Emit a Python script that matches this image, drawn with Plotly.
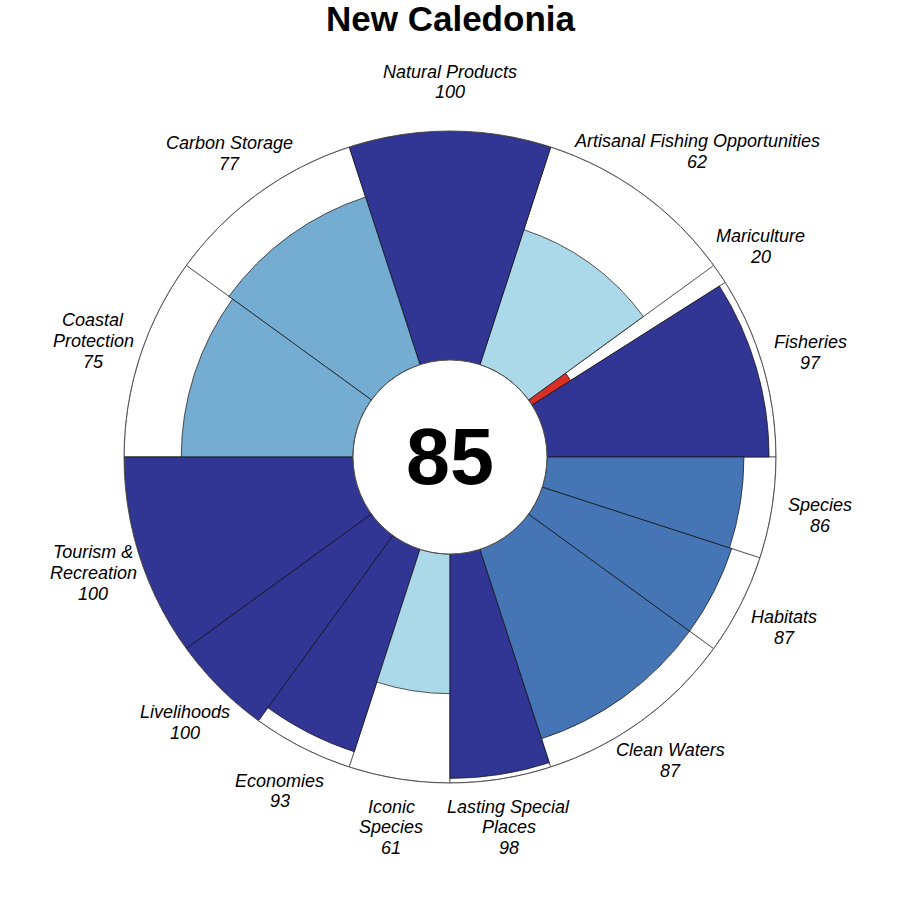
import math
import plotly.graph_objects as go

# ---- data ----
goals = ["Fisheries", "Mariculture", "Artisanal Fishing Opportunities", "Natural Products",
         "Carbon Storage", "Coastal Protection", "Tourism & Recreation", "Livelihoods",
         "Economies", "Iconic Species", "Lasting Special Places", "Clean Waters",
         "Habitats", "Species"]
label_lines = [["Fisheries"], ["Mariculture"], ["Artisanal Fishing Opportunities"], ["Natural Products"],
               ["Carbon Storage"], ["Coastal", "Protection"], ["Tourism &", "Recreation"], ["Livelihoods"],
               ["Economies"], ["Iconic", "Species"], ["Lasting Special", "Places"], ["Clean Waters"],
               ["Habitats"], ["Species"]]
scores = [97, 20, 62, 100, 77, 75, 100, 100, 93, 61, 98, 87, 87, 86]
weights = [0.9, 0.1, 1, 1, 1, 1, 1, 0.5, 0.5, 0.5, 0.5, 1, 0.5, 0.5]
overall = 85
country = "New Caledonia"

# ---- geometry from weights ----
total_w = sum(weights)
widths = [w / total_w * 360 for w in weights]
centers = []
acc = 0
for wd in widths:
    centers.append(acc + wd / 2)
    acc += wd

rdylbu = ["#a50026", "#d73027", "#f46d43", "#fdae61", "#fee090", "#ffffbf",
          "#e0f3f8", "#abd9e9", "#74add1", "#4575b4", "#313695"]


def score_color(s):
    if s >= 90:
        return rdylbu[10]
    if s >= 80:
        return rdylbu[9]
    if s >= 70:
        return rdylbu[8]
    if s >= 60:
        return rdylbu[7]
    if s >= 50:
        return rdylbu[6]
    if s >= 40:
        return rdylbu[4]
    if s >= 30:
        return rdylbu[3]
    if s >= 10:
        return rdylbu[1]
    return rdylbu[0]


colors = [score_color(s) for s in scores]

W = H = 900
cx, cy = 450, 457
R = 326
hole_px = 97
FONT = "Liberation Sans, Arial, Helvetica, sans-serif"

fig = go.Figure()
# background full petals
fig.add_trace(go.Barpolar(
    r=[100] * len(goals), theta=centers, width=widths,
    marker=dict(color="white", line=dict(color="#333333", width=0.7)),
    hoverinfo="skip", showlegend=False))
# score petals
fig.add_trace(go.Barpolar(
    r=scores, theta=centers, width=widths,
    marker=dict(color=colors, line=dict(color="#111111", width=0.7)),
    text=goals, hoverinfo="text+r", showlegend=False))
# inner circle outline
circ_t = [i for i in range(0, 361, 2)]
fig.add_trace(go.Scatterpolar(
    r=[0] * len(circ_t), theta=circ_t, mode="lines",
    line=dict(color="#444444", width=1), hoverinfo="skip", showlegend=False))

annotations = []
label_r = [375] * len(goals)
label_ang = list(centers)
label_r[2] = 393
label_ang[2] = 51
LINE_H = 20.7
for i, g in enumerate(goals):
    a = math.radians(label_ang[i])
    px = cx + label_r[i] * math.cos(a)
    py = cy - label_r[i] * math.sin(a)
    lines = label_lines[i] + [str(scores[i])]
    n = len(lines)
    for k, ln in enumerate(lines):
        ly = py + (k - (n - 1) / 2) * LINE_H
        annotations.append(dict(
            x=px / W, y=1 - ly / H, xref="paper", yref="paper",
            text=ln, showarrow=False,
            xanchor="center", yanchor="middle", align="center",
            font=dict(family=FONT, size=18, color="black", style="italic")))

annotations.append(dict(
    x=cx / W, y=1 - (cy - 1) / H, xref="paper", yref="paper", text=f"<b>{overall}</b>",
    showarrow=False, xanchor="center", yanchor="middle",
    font=dict(family=FONT, size=79, color="black")))
annotations.append(dict(
    x=0.5, y=1 - 19 / H, xref="paper", yref="paper", text=f"<b>{country}</b>",
    showarrow=False, xanchor="center", yanchor="middle",
    font=dict(family=FONT, size=35, color="black")))

fig.update_layout(
    width=W, height=H, autosize=False,
    margin=dict(l=0, r=0, t=0, b=0),
    paper_bgcolor="white", plot_bgcolor="white",
    showlegend=False,
    annotations=annotations,
    polar=dict(
        domain=dict(x=[(cx - R) / W, (cx + R) / W], y=[1 - (cy + R) / H, 1 - (cy - R) / H]),
        hole=hole_px / R,
        bgcolor="white",
        barmode="overlay",
        radialaxis=dict(range=[0, 100], visible=False, showgrid=False),
        angularaxis=dict(direction="counterclockwise", rotation=0, showgrid=False,
                         showticklabels=False, ticks="", showline=True,
                         linecolor="#555555", linewidth=1),
    ),
)

fig.write_html("out.html")
